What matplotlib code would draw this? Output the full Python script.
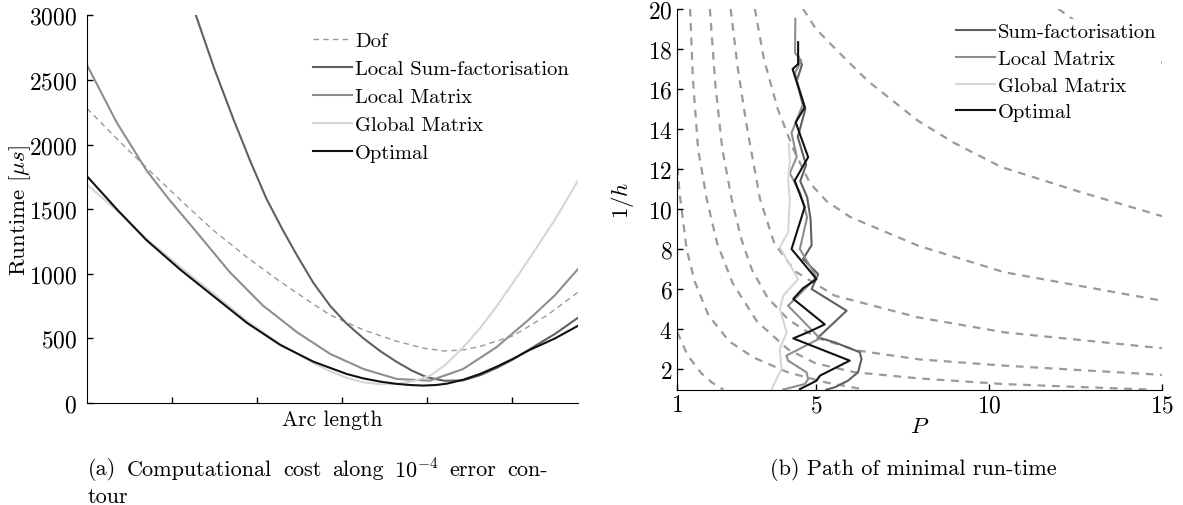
import matplotlib
matplotlib.use("Agg")
import matplotlib.pyplot as plt

plt.rcParams['font.family'] = 'serif'
plt.rcParams['font.serif'] = ['cmr10']
plt.rcParams['mathtext.fontset'] = 'cm'
plt.rcParams['axes.formatter.use_mathtext'] = True
plt.rcParams['axes.unicode_minus'] = False
plt.rcParams['font.size'] = 15

# (a) runtime along the 1e-4 error contour
arc_dof = [0, 0.35, 0.70, 1.17, 1.49, 1.88, 2.27, 2.66, 2.86, 3.25, 3.64, 3.95, 4.19, 4.42, 4.62, 5.01, 5.40, 5.77]
rt_dof = [2280, 2045, 1820, 1527, 1334, 1128, 940, 765, 680, 565, 478, 425, 403, 410, 438, 521, 676, 857]

arc_sum = [1.28, 1.50, 1.72, 1.92, 2.11, 2.30, 2.47, 2.66, 2.86, 3.05, 3.25, 3.45, 3.64, 3.82, 3.99, 4.20, 4.42, 4.62, 4.81, 5.00, 5.20, 5.50, 5.77]
rt_sum = [3000, 2580, 2198, 1870, 1579, 1340, 1140, 930, 750, 615, 500, 400, 318, 250, 200, 172, 175, 215, 270, 335, 415, 535, 660]

arc_lm = [0, 0.35, 0.70, 0.96, 1.29, 1.68, 2.07, 2.47, 2.86, 3.25, 3.64, 4.03, 4.42, 4.81, 5.20, 5.50, 5.77]
rt_lm = [2616, 2170, 1800, 1579, 1321, 1011, 753, 547, 379, 263, 186, 173, 263, 431, 650, 835, 1037]

arc_gm = [0, 0.35, 0.70, 1.10, 1.49, 1.88, 2.27, 2.66, 2.86, 3.05, 3.25, 3.45, 3.64, 3.84, 4.03, 4.22, 4.42, 4.62, 4.81, 5.00, 5.20, 5.50, 5.77]
rt_gm = [1690, 1490, 1270, 1050, 845, 635, 455, 310, 245, 195, 160, 145, 147, 170, 211, 300, 430, 580, 745, 925, 1120, 1420, 1720]

arc_opt = [0, 0.35, 0.70, 1.10, 1.49, 1.88, 2.27, 2.66, 3.05, 3.25, 3.45, 3.64, 3.80, 3.95, 4.10, 4.23, 4.42, 4.62, 4.81, 5.00, 5.20, 5.50, 5.77]
rt_opt = [1755, 1500, 1260, 1030, 825, 620, 450, 320, 225, 190, 165, 148, 139, 135, 139, 150, 180, 225, 280, 340, 410, 500, 598]

# (b) path of minimal run-time, (P, 1/h)
p_sum = [5.31, 5.55, 5.93, 6.22, 6.32, 6.27, 5.55, 5.07, 5.89, 4.88, 5.07, 4.63, 4.88, 4.85, 4.75, 4.55, 4.72, 4.48, 4.70, 4.45, 4.60, 4.50]
h_sum = [1.0, 1.11, 1.44, 1.86, 2.52, 2.86, 3.35, 3.60, 4.93, 6.01, 6.76, 7.51, 8.2, 9.5, 10.6, 11.4, 12.2, 13.6, 15.0, 16.4, 17.2, 17.6]

p_lm = [4.06, 4.68, 4.78, 4.73, 4.20, 4.15, 5.12, 4.20, 5.02, 4.54, 4.75, 4.55, 4.25, 4.45, 4.30, 4.62, 4.40, 4.58, 4.40, 4.41]
h_lm = [1.0, 1.27, 1.52, 1.86, 2.44, 2.69, 3.55, 5.18, 6.60, 8.01, 9.6, 10.8, 11.8, 12.6, 13.8, 15.2, 16.8, 17.4, 17.8, 19.5]

p_gm = [3.72, 3.77, 4.01, 3.96, 4.16, 3.96, 4.06, 4.49, 3.96, 4.20, 4.25, 4.20, 4.25, 4.22]
h_gm = [1.0, 1.19, 2.02, 3.02, 3.85, 5.02, 5.68, 6.51, 8.10, 8.84, 10.5, 11.4, 12.4, 13.25]

p_opt = [4.54, 4.83, 5.02, 5.12, 5.60, 5.98, 4.35, 4.83, 5.26, 4.35, 4.63, 5.02, 4.30, 4.68, 4.39, 4.78, 4.42, 4.68, 4.33, 4.49, 4.49]
h_opt = [1.02, 1.27, 1.44, 1.69, 2.11, 2.44, 3.55, 3.90, 4.25, 5.52, 6.05, 6.51, 8.01, 10.1, 11.42, 12.59, 14.33, 15.08, 16.99, 17.24, 18.33]

# dashed contours (P, 1/h)
contours = [
    ([12.0, 12.8, 13.8, 15.0], [20, 19.0, 18.1, 17.3]),
    ([4.63, 5.0, 5.62, 6.5, 7.95, 9.0, 10.36, 12.65, 15], [20, 19.0, 17.9, 16.4, 14.41, 13.3, 12.1, 10.85, 9.65]),
    ([3.24, 3.5, 3.9, 4.35, 4.83, 5.31, 6.0, 7.95, 10.45, 15], [20, 17.5, 15.0, 13.0, 11.3, 10.4, 9.6, 8.18, 6.85, 5.43]),
    ([2.54, 2.75, 3.0, 3.39, 3.8, 4.4, 5.55, 7.95, 10.45, 15], [20, 17.0, 14.2, 10.5, 8.3, 6.9, 5.68, 4.6, 3.85, 3.06]),
    ([1.94, 2.1, 2.3, 2.57, 2.85, 3.15, 3.6, 4.2, 5.0, 6.22, 8.0, 10.45, 15], [20, 16.2, 13.0, 10.5, 8.5, 7.0, 5.6, 4.5, 3.6, 2.94, 2.5, 2.19, 1.73]),
    ([1.37, 1.45, 1.6, 1.85, 2.15, 2.6, 3.3, 4.2, 5.0, 6.13, 8.0, 10.45, 13.0, 14.6], [20, 16.5, 13.0, 10.5, 8.3, 6.3, 4.4, 3.0, 2.3, 1.86, 1.55, 1.27, 1.1, 1.0]),
    ([1.0, 1.08, 1.27, 1.5, 1.9, 2.5, 3.2, 4.2, 5.3, 6.4], [12.1, 10.6, 8.0, 6.4, 4.7, 3.4, 2.6, 1.85, 1.35, 1.0]),
    ([1.0, 1.3, 1.7, 2.0, 2.33], [3.86, 2.7, 1.8, 1.35, 1.0]),
]

caption_a = ['(a)', 'Computational', 'cost', 'along', r'$10^{-4}$', 'error', 'con-']

c_sum = '#606060'
c_lm = '#8e8e8e'
c_gm = '#d6d6d6'
c_opt = '#111111'
c_dash = '#9a9a9a'

W, H = 1183, 506
fig = plt.figure(figsize=(W / 100, H / 100), dpi=100)

# ---- left panel
ax1 = fig.add_axes([87 / W, 1 - 404 / H, (578 - 87) / W, (404 - 16.4) / H])
ax1.plot(arc_dof, rt_dof, color=c_dash, lw=1.0, dashes=(4, 3), label='Dof')
ax1.plot(arc_sum, rt_sum, color=c_sum, lw=1.5, label='Local Sum-factorisation')
ax1.plot(arc_lm, rt_lm, color=c_lm, lw=1.5, label='Local Matrix')
ax1.plot(arc_gm, rt_gm, color=c_gm, lw=1.5, label='Global Matrix')
ax1.plot(arc_opt, rt_opt, color=c_opt, lw=1.5, label='Optimal')
ax1.set_xlim(0, 5.77)
ax1.set_ylim(0, 3000)
ax1.set_xticks([1, 2, 3, 4, 5])
ax1.set_xticklabels([])
ax1.set_yticks(range(0, 3001, 500))
ax1.set_xlabel('Arc length', fontsize=15.5, labelpad=-2)
ax1.set_ylabel(r'Runtime [$\mu s$]', fontsize=16.5, labelpad=-3)
for s in ['top', 'right']:
    ax1.spines[s].set_visible(False)
ax1.tick_params(direction='in', length=4, width=1, labelsize=17, pad=7)
ax1.legend(loc='upper left', bbox_to_anchor=(313 / W, 1 - 33 / H),
           bbox_transform=fig.transFigure, frameon=False, borderpad=0,
           fontsize=14.8, handlelength=1.9, handletextpad=0.15,
           labelspacing=0.46, borderaxespad=0)

# ---- right panel
ax2 = fig.add_axes([677.3 / W, 1 - 390.5 / H, (1162 - 677.3) / W, (390.5 - 9.7) / H])
for cp, ch in contours:
    ax2.plot(cp, ch, color=c_dash, lw=1.6, dashes=(3.5, 3), zorder=1)
ax2.plot(p_sum, h_sum, color=c_sum, lw=1.5, label='Sum-factorisation', zorder=3)
ax2.plot(p_lm, h_lm, color=c_lm, lw=1.5, label='Local Matrix', zorder=3)
ax2.plot(p_gm, h_gm, color=c_gm, lw=1.5, label='Global Matrix', zorder=3)
ax2.plot(p_opt, h_opt, color=c_opt, lw=1.5, label='Optimal', zorder=4)
ax2.set_xlim(1, 15)
ax2.set_ylim(1, 20)
ax2.set_xticks([1, 5, 10, 15])
ax2.set_yticks(range(2, 21, 2))
ax2.set_xlabel(r'$P$', fontsize=16.5, labelpad=0)
ax2.set_ylabel(r'$1/h$', fontsize=16.5, labelpad=8)
for s in ['top', 'right']:
    ax2.spines[s].set_visible(False)
ax2.tick_params(direction='in', length=4, width=1, labelsize=17)
leg = ax2.legend(loc='upper left', bbox_to_anchor=(952 / W, 1 - 20 / H),
                 bbox_transform=fig.transFigure, frameon=True, borderpad=0.2,
                 fontsize=14.8, handlelength=1.9, handletextpad=0.15,
                 labelspacing=0.4, borderaxespad=0, fancybox=False)
leg.get_frame().set_facecolor('white')
leg.get_frame().set_edgecolor('none')
leg.get_frame().set_alpha(1)

# captions; line one of (a) is justified from x=88 to x=548 like the typeset original
renderer = fig.canvas.get_renderer()
words = [fig.text(0, 1 - 470 / H, w, ha='left', va='center', fontsize=16) for w in caption_a]
widths = [t.get_window_extent(renderer=renderer).width for t in words]
gap = (548 - 88 - sum(widths)) / (len(words) - 1)
xpos = 88
for t, wd in zip(words, widths):
    t.set_x(xpos / W)
    xpos += wd + gap
fig.text(88 / W, 1 - 497 / H, 'tour', ha='left', va='center', fontsize=16)
fig.text(913 / W, 1 - 470 / H, '(b) Path of minimal run-time',
         ha='center', va='center', fontsize=16)

fig.savefig('out.png', dpi=100)
